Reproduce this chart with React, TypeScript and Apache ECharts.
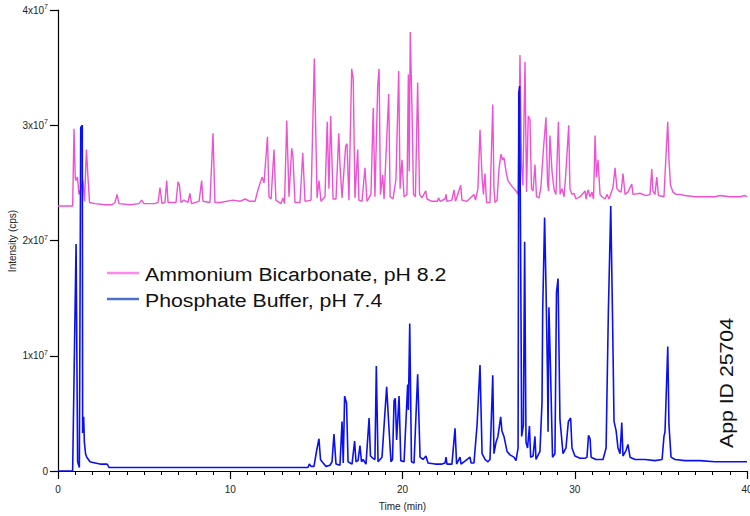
import React, { useEffect, useRef } from "react";
import * as echarts from "echarts";

// Time (min) vs intensity, intensity in units of 1e7 cps
const ammoniumPoints: [number, number][] = [
  [0, 2.3], [0.85, 2.3], [0.93, 2.97], [1.0, 2.55], [1.04, 2.52], [1.13, 2.55], [1.22, 2.4], [1.34, 2.45], [1.45, 2.52], [1.54, 2.34], [1.65, 2.79], [1.74, 2.55], [1.83, 2.33], [2.15, 2.32], [2.73, 2.31], [3.13, 2.31], [3.31, 2.33], [3.43, 2.4], [3.54, 2.32], [4.18, 2.31], [4.7, 2.32], [4.86, 2.35], [4.99, 2.32], [5.63, 2.32], [5.81, 2.33], [5.92, 2.46], [6.04, 2.32], [6.21, 2.33], [6.31, 2.52], [6.39, 2.33], [6.85, 2.33], [6.97, 2.51], [7.05, 2.48], [7.14, 2.33], [7.31, 2.35], [7.55, 2.33], [7.66, 2.41], [7.75, 2.32], [8.19, 2.34], [8.34, 2.52], [8.42, 2.34], [8.82, 2.33], [9.0, 2.93], [9.11, 2.33], [9.41, 2.33], [10.16, 2.35], [10.57, 2.34], [10.86, 2.36], [11.15, 2.34], [11.44, 2.34], [11.61, 2.44], [11.85, 2.55], [11.96, 2.5], [12.16, 2.9], [12.25, 2.38], [12.37, 2.36], [12.54, 2.79], [12.65, 2.35], [12.95, 2.32], [13.06, 2.37], [13.15, 2.32], [13.28, 3.04], [13.41, 2.38], [13.57, 2.8], [13.64, 2.73], [13.76, 2.33], [14.05, 2.33], [14.21, 2.76], [14.34, 2.34], [14.69, 2.35], [14.88, 3.58], [15.04, 2.37], [15.15, 2.52], [15.27, 2.34], [15.5, 2.38], [15.63, 3.03], [15.73, 2.45], [15.83, 3.08], [15.97, 2.36], [16.14, 2.36], [16.3, 2.93], [16.37, 2.66], [16.49, 2.37], [16.7, 2.82], [16.78, 2.84], [16.89, 2.35], [17.05, 3.49], [17.14, 3.4], [17.24, 2.37], [17.4, 2.79], [17.47, 2.35], [17.65, 2.34], [17.82, 2.63], [17.94, 2.34], [18.17, 2.4], [18.3, 3.15], [18.4, 2.38], [18.56, 3.34], [18.64, 3.49], [18.72, 2.4], [18.85, 2.57], [18.93, 2.36], [19.2, 3.27], [19.28, 2.38], [19.45, 2.36], [19.62, 2.53], [19.78, 3.47], [19.86, 2.45], [19.97, 2.7], [20.09, 2.38], [20.26, 2.4], [20.34, 3.44], [20.39, 2.6], [20.45, 3.81], [20.55, 3.15], [20.64, 2.4], [20.75, 2.38], [20.88, 3.37], [20.99, 2.4], [21.13, 2.37], [21.35, 2.43], [21.42, 2.36], [21.71, 2.34], [22.03, 2.34], [22.09, 2.37], [22.18, 2.34], [22.47, 2.36], [22.53, 2.4], [22.58, 2.34], [22.87, 2.35], [22.99, 2.44], [23.08, 2.34], [23.38, 2.48], [23.45, 2.35], [23.74, 2.34], [24.15, 2.4], [24.24, 2.35], [24.38, 2.45], [24.5, 2.96], [24.62, 2.55], [24.7, 2.4], [24.79, 2.58], [24.88, 2.33], [25.08, 2.33], [25.24, 3.18], [25.31, 2.45], [25.37, 2.33], [25.49, 2.35], [25.6, 2.62], [25.72, 2.75], [25.81, 2.7], [25.89, 2.72], [26.01, 2.6], [26.12, 2.52], [26.36, 2.47], [26.59, 2.43], [26.71, 2.4], [26.82, 3.61], [26.91, 2.66], [26.99, 2.48], [27.11, 3.55], [27.2, 2.42], [27.3, 3.08], [27.4, 3.05], [27.49, 2.45], [27.58, 2.43], [27.69, 2.66], [27.78, 2.38], [27.93, 2.37], [28.04, 2.47], [28.18, 2.79], [28.33, 3.07], [28.42, 2.5], [28.48, 2.43], [28.56, 2.91], [28.68, 2.6], [28.8, 2.44], [28.91, 2.4], [29.05, 3.03], [29.15, 2.4], [29.26, 2.45], [29.38, 2.38], [29.49, 2.6], [29.65, 3.0], [29.72, 2.45], [29.84, 2.4], [29.96, 2.41], [30.07, 2.36], [30.31, 2.38], [30.6, 2.43], [30.66, 2.36], [30.77, 2.44], [30.89, 2.38], [31.0, 2.42], [31.09, 2.36], [31.18, 2.91], [31.26, 2.55], [31.35, 2.7], [31.47, 2.4], [31.58, 2.38], [31.76, 2.36], [31.87, 2.4], [31.99, 2.36], [32.22, 2.46], [32.34, 2.63], [32.45, 2.45], [32.57, 2.43], [32.69, 2.42], [32.8, 2.58], [32.92, 2.4], [33.09, 2.42], [33.31, 2.49], [33.38, 2.4], [33.79, 2.41], [34.14, 2.39], [34.37, 2.4], [34.47, 2.62], [34.54, 2.43], [34.66, 2.4], [34.76, 2.55], [34.86, 2.39], [35.18, 2.38], [35.3, 2.75], [35.4, 3.03], [35.47, 2.7], [35.56, 2.48], [35.7, 2.42], [35.88, 2.4], [36.11, 2.4], [36.4, 2.39], [36.98, 2.38], [37.56, 2.38], [38.14, 2.38], [38.43, 2.39], [39.01, 2.38], [39.59, 2.38], [39.88, 2.39], [40, 2.38],
];

const phosphatePoints: [number, number][] = [
  [0, 0], [0.85, 0], [0.93, 0.8], [1.05, 1.97], [1.14, 0.08], [1.24, 0.03], [1.32, 2.98], [1.41, 3.0], [1.43, 0.33], [1.49, 0.47], [1.53, 0.25], [1.6, 0.15], [1.67, 0.12], [1.86, 0.08], [2.15, 0.07], [2.44, 0.06], [2.84, 0.06], [2.9, 0.05], [2.96, 0.03], [5.0, 0.03], [9.0, 0.03], [12.0, 0.03], [14.51, 0.03], [14.59, 0.06], [14.69, 0.04], [14.86, 0.04], [15.02, 0.18], [15.15, 0.28], [15.24, 0.1], [15.33, 0.08], [15.56, 0.04], [15.79, 0.05], [15.91, 0.08], [16.02, 0.32], [16.14, 0.06], [16.37, 0.05], [16.49, 0.43], [16.56, 0.07], [16.64, 0.65], [16.75, 0.59], [16.84, 0.08], [17.07, 0.06], [17.22, 0.26], [17.3, 0.08], [17.42, 0.09], [17.53, 0.22], [17.62, 0.08], [17.71, 0.1], [17.88, 0.06], [18.06, 0.46], [18.14, 0.13], [18.29, 0.11], [18.4, 0.1], [18.48, 0.91], [18.58, 0.08], [18.81, 0.12], [19.08, 0.73], [19.22, 0.36], [19.33, 0.08], [19.42, 0.1], [19.51, 0.61], [19.58, 0.63], [19.66, 0.27], [19.8, 0.65], [19.9, 0.09], [20.09, 0.08], [20.3, 0.75], [20.34, 0.53], [20.42, 1.28], [20.52, 0.08], [20.67, 0.07], [20.88, 0.84], [21.02, 0.12], [21.19, 0.1], [21.36, 0.13], [21.48, 0.07], [21.89, 0.06], [22.29, 0.06], [22.47, 0.07], [22.53, 0.12], [22.58, 0.06], [22.87, 0.06], [23.05, 0.37], [23.14, 0.06], [23.34, 0.12], [23.4, 0.06], [23.92, 0.12], [23.98, 0.07], [24.15, 0.07], [24.33, 0.4], [24.5, 0.92], [24.62, 0.15], [24.79, 0.1], [24.96, 0.08], [25.08, 0.1], [25.24, 0.83], [25.31, 0.15], [25.43, 0.25], [25.54, 0.3], [25.7, 0.47], [25.77, 0.35], [25.89, 0.3], [26.07, 0.17], [26.24, 0.14], [26.47, 0.12], [26.59, 0.09], [26.71, 0.2], [26.75, 3.28], [26.8, 3.34], [26.92, 0.3], [27.02, 0.4], [27.09, 1.99], [27.17, 0.25], [27.26, 0.2], [27.37, 0.39], [27.44, 0.12], [27.58, 0.13], [27.69, 0.3], [27.75, 0.1], [27.98, 0.17], [28.1, 0.6], [28.14, 1.4], [28.25, 2.2], [28.33, 1.6], [28.42, 0.8], [28.45, 0.34], [28.5, 1.42], [28.59, 0.9], [28.71, 0.12], [28.85, 0.15], [28.94, 1.55], [29.03, 1.67], [29.14, 0.45], [29.32, 0.15], [29.49, 0.2], [29.63, 0.43], [29.76, 0.46], [29.84, 0.2], [30.01, 0.13], [30.31, 0.11], [30.6, 0.11], [30.71, 0.12], [30.8, 0.31], [30.89, 0.28], [30.95, 0.12], [31.23, 0.1], [31.64, 0.1], [31.82, 0.2], [31.95, 1.37], [32.09, 2.3], [32.19, 1.37], [32.28, 0.43], [32.4, 0.35], [32.51, 0.2], [32.63, 0.15], [32.73, 0.42], [32.8, 0.13], [32.98, 0.18], [33.09, 0.23], [33.21, 0.12], [33.5, 0.1], [34.08, 0.1], [34.66, 0.09], [35.07, 0.1], [35.18, 0.3], [35.24, 0.34], [35.4, 1.08], [35.47, 0.4], [35.59, 0.12], [35.82, 0.1], [36.4, 0.09], [37.27, 0.09], [38.14, 0.08], [39.01, 0.08], [40, 0.08],
];

const seriesNames = ["Ammonium Bicarbonate, pH 8.2", "Phosphate Buffer, pH 7.4"];
const seriesColors = ["#f050d2", "#0a10f5"];
const legendColors = ["#ff88f0", "#4a72c8"];
const annotation = "App ID 25704";
const xTitle = "Time (min)";
const yTitle = "Intensity (cps)";
const SCALE = 1e7;

const FONT = '"Liberation Sans", Arial, sans-serif';

export default function App() {
  const ref = useRef<HTMLDivElement>(null);

  useEffect(() => {
    if (!ref.current) return;
    const chart = echarts.init(ref.current, null, { renderer: "svg" });
    const toData = (pts: [number, number][]) => pts.map(([t, v]) => [t, v * SCALE]);

    chart.setOption({
      animation: false,
      backgroundColor: "#ffffff",
      textStyle: { fontFamily: FONT },
      grid: { left: 58, right: 3, top: 10, bottom: 45, containLabel: false, outerBoundsMode: "none" },
      xAxis: {
        type: "value",
        min: 0,
        max: 40,
        interval: 10,
        name: xTitle,
        nameLocation: "middle",
        nameGap: 30,
        nameTextStyle: { fontSize: 10, color: "#222", fontFamily: FONT },
        axisLine: { show: true, lineStyle: { color: "#000", width: 1.2 } },
        axisTick: { show: true, length: 8, lineStyle: { color: "#000", width: 1.2 } },
        minorTick: { show: true, splitNumber: 10, length: 4, lineStyle: { color: "#000", width: 1 } },
        axisLabel: { fontSize: 10, color: "#222", margin: 13, fontFamily: FONT },
        splitLine: { show: false },
      },
      yAxis: {
        type: "value",
        min: 0,
        max: 4 * SCALE,
        interval: SCALE,
        axisLine: { show: true, onZero: false, lineStyle: { color: "#000", width: 1.2 } },
        axisTick: { show: true, length: 8, lineStyle: { color: "#000", width: 1.2 } },
        axisLabel: {
          margin: 10,
          color: "#222",
          fontFamily: FONT,
          formatter: (v: number) => (v === 0 ? "0" : `{m|${Math.round(v / SCALE)}x10}{e|7}`),
          rich: {
            m: { fontSize: 10, color: "#222", fontFamily: FONT },
            e: { fontSize: 7, color: "#222", fontFamily: FONT, padding: [0, 0, 7, 0] },
          },
          fontSize: 10,
        },
        splitLine: { show: false },
      },
      series: [
        {
          name: seriesNames[0],
          type: "line",
          data: toData(ammoniumPoints),
          showSymbol: false,
          symbol: "none",
          silent: true,
          lineStyle: { color: seriesColors[0], width: 1.4 },
          z: 2,
        },
        {
          name: seriesNames[1],
          type: "line",
          data: toData(phosphatePoints),
          showSymbol: false,
          symbol: "none",
          silent: true,
          lineStyle: { color: seriesColors[1], width: 1.6 },
          z: 3,
        },
      ],
      graphic: [
        {
          type: "text", x: 12, y: 241, rotation: Math.PI / 2,
          style: { text: yTitle, fill: "#222", fontSize: 10, fontFamily: FONT, align: "center", verticalAlign: "middle" },
        },
        { type: "line", shape: { x1: 107, y1: 273, x2: 139, y2: 273 }, style: { stroke: legendColors[0], lineWidth: 2.5 } },
        { type: "line", shape: { x1: 107, y1: 299, x2: 139, y2: 299 }, style: { stroke: legendColors[1], lineWidth: 2.5 } },
        {
          type: "text", x: 145, y: 274, scaleX: 1.12,
          style: { text: seriesNames[0], fill: "#111", fontSize: 19, fontFamily: FONT, align: "left", verticalAlign: "middle" },
        },
        {
          type: "text", x: 145, y: 300, scaleX: 1.12,
          style: { text: seriesNames[1], fill: "#111", fontSize: 19, fontFamily: FONT, align: "left", verticalAlign: "middle" },
        },
        {
          type: "text", x: 726, y: 383, rotation: Math.PI / 2, scaleX: 1.12,
          style: { text: annotation, fill: "#111", fontSize: 19, fontFamily: FONT, align: "center", verticalAlign: "middle" },
        },
      ],
    });
    return () => chart.dispose();
  }, []);

  return <div ref={ref} style={{ position: "absolute", left: 0, top: 0, width: 750, height: 516 }} />;
}
